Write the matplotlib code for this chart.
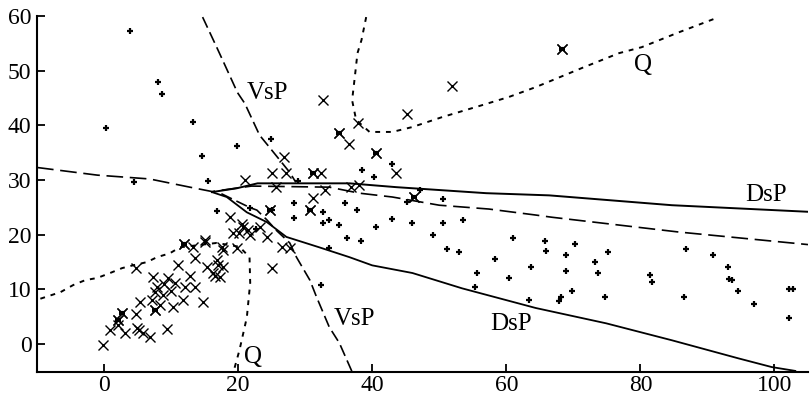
import matplotlib
matplotlib.use('Agg')
import matplotlib.pyplot as plt
import numpy as np

plt.rcParams['font.family'] = ['Liberation Serif', 'DejaVu Serif']

# class boundaries
vsp_x = [14.7, 16.8, 17.7, 19.9, 21.0, 23.2, 24.4, 27.7, 28.6, np.nan,
         17.5, 21.7, 22.8, 24.3, 25.7, 27.7, 28.7, 30.7, 31.7, 33.6, 35.1, 36.9, 37.0]
vsp_y = [59.8, 54.3, 51.9, 46.0, 44.0, 38.2, 36.4, 31.4, 29.6, np.nan,
         27.5, 25.0, 24.5, 22.7, 20.8, 18.5, 15.9, 11.7, 8.6, 3.1, 0.2, -4.8, -5.0]

dsp_up_x = [16.1, 19.8, 22.9, 32.1, 36.6, 43.6, 57.0, 66.4, 84.7, 105.0]
dsp_up_y = [27.8, 28.5, 29.4, 29.4, 29.4, 28.7, 27.6, 27.2, 25.4, 24.2]

dsp_lo_x = [16.1, 18.3, 21.3, 24.3, 27.2, 32.1, 36.6, 40.0, 46.0, 53.4, 64.4, 74.9, 84.7, 94.6, 99.6, 103.1]
dsp_lo_y = [27.8, 26.9, 24.1, 22.3, 19.6, 17.7, 15.9, 14.4, 13.0, 10.2, 6.6, 3.8, 0.7, -2.6, -4.2, -4.9]

dash_x = [-10.0, -1.0, 6.8, 12.8, 16.1, 22.0, 33.6, 38.1, 43.0, 50.0, 57.4, 64.4, 66.8, 85.7, 105.0]
dash_y = [32.3, 30.9, 30.2, 28.7, 27.9, 28.9, 28.7, 27.6, 26.9, 25.4, 24.7, 23.6, 23.2, 20.5, 18.2]

q1_x = [-9.5, -6.5, -4.6, -2.8, -1.0, 0.9, 2.7, 4.3, 6.4, 7.9, 9.8, 11.3, 16.8, 20.2,
        21.7, 21.8, 21.3, 20.2, 19.5, 19.3]
q1_y = [8.3, 9.5, 10.8, 11.7, 12.1, 13.0, 13.9, 14.4, 15.0, 15.9, 16.6, 17.7, 18.5, 17.8,
        15.9, 11.2, 4.9, -1.1, -4.2, -5.0]

q2_x = [39.1, 38.4, 37.8, 37.4, 37.0, 37.6, 39.6, 43.0, 46.0, 50.4, 56.4, 60.4, 64.4,
        71.3, 76.8, 80.2, 85.7, 91.7]
q2_y = [59.8, 55.6, 53.2, 48.8, 44.6, 41.0, 38.8, 38.8, 39.7, 41.5, 43.7, 45.2, 47.0,
        50.5, 53.2, 54.3, 57.0, 59.8]

# observations
cross_x = [-0.1, 0.9, 2.1, 2.7, 4.8, 2.1, 3.1, 4.9, 5.2, 5.8, 6.8, 9.4, 5.4, 7.6, 7.1, 8.3,
           8.8, 10.3, 11.8, 7.6, 7.3, 9.5, 7.9, 11.0, 12.1, 10.6, 13.5, 14.7, 13.5, 4.8,
           11.9, 15.0, 15.3, 16.2, 17.7, 17.3, 16.8, 17.7, 19.2, 15.0, 17.6, 19.8, 18.8,
           20.7, 20.2, 23.2, 24.3, 26.5, 27.7, 13.2, 21.0, 25.7, 25.1, 27.2, 26.8, 31.1,
           32.4, 31.1, 30.7, 24.7, 32.9, 36.9, 38.1, 32.6, 51.9, 45.2, 37.9, 35.0, 36.5,
           40.5, 43.6, 46.3, 68.3, 25.1, 21.5, 20.6, 21.8, 16.5, 17.0, 9.0, 10.0, 12.8]
cross_y = [-0.2, 2.6, 3.5, 5.7, 5.5, 4.4, 2.0, 2.9, 2.5, 2.0, 1.3, 2.7, 7.7, 6.2, 8.0, 7.1,
           9.0, 6.8, 8.0, 9.5, 12.2, 12.1, 10.4, 14.4, 10.4, 11.2, 10.4, 7.7, 15.7, 13.9,
           18.3, 18.6, 14.1, 13.0, 14.1, 12.2, 15.4, 17.2, 20.3, 19.0, 17.7, 17.5, 23.2,
           21.4, 20.3, 21.4, 19.6, 17.7, 17.5, 17.7, 30.0, 28.7, 31.3, 31.3, 34.2, 31.3,
           31.3, 26.7, 24.5, 24.5, 28.2, 28.7, 29.1, 44.6, 47.2, 42.0, 40.4, 38.6, 36.6,
           35.0, 31.3, 26.9, 53.9, 13.9, 20.8, 22.0, 20.0, 12.5, 14.5, 11.0, 9.8, 12.5]

plus_x = [3.9, 8.0, 8.6, 0.3, 13.2, 14.6, 19.8, 15.5, 4.5, 24.9, 16.8, 28.4, 28.4, 42.9,
          47.2, 45.2, 50.6, 36.0, 37.8, 33.6, 35.0, 42.9, 40.5, 46.0, 50.6, 53.6, 36.2,
          38.4, 49.0, 33.6, 51.2, 53.0, 61.0, 65.8, 65.9, 58.3, 63.7, 55.7, 60.4, 55.4,
          63.4, 32.3, 25.1, 32.6, 32.6, 70.2, 68.9, 75.1, 68.9, 73.2, 73.7, 69.8, 68.2,
          67.9, 74.7, 81.4, 81.7, 86.5, 86.8, 90.8, 93.0, 93.2, 93.6, 94.5, 96.9, 102.2,
          102.8, 102.2, 21.8, 22.6, 40.3, 38.5, 29.0]
plus_y = [57.2, 47.9, 45.7, 39.5, 40.6, 34.4, 36.2, 29.8, 29.6, 37.5, 24.3, 25.8, 23.0, 32.9,
          28.2, 26.0, 26.5, 25.8, 24.5, 22.7, 21.8, 22.9, 21.4, 22.1, 22.1, 22.7, 19.4,
          18.8, 19.9, 17.5, 17.4, 16.8, 19.4, 18.8, 17.0, 15.5, 14.1, 13.0, 12.1, 10.4,
          8.0, 10.8, 24.5, 24.1, 22.1, 18.3, 16.3, 16.8, 13.3, 15.0, 13.0, 9.7, 8.6,
          7.9, 8.6, 12.6, 11.3, 8.6, 17.4, 16.3, 14.1, 11.9, 11.7, 9.7, 7.3, 10.1,
          10.1, 4.8, 24.8, 21.0, 30.5, 31.8, 29.9]

mixed_x = [2.7, 2.1, 7.6, 11.9, 35.0, 40.5, 46.3, 68.3, 30.7, 24.7, 31.1]
mixed_y = [5.7, 4.4, 6.2, 18.3, 38.6, 35.0, 26.9, 53.9, 24.5, 24.5, 31.3]

fig = plt.figure(figsize=(8.1, 3.99), dpi=100)
ax = fig.add_axes([37 / 810, 27 / 399, 771 / 810, 356 / 399])

ax.plot(vsp_x, vsp_y, color='black', lw=1.2, linestyle=(0, (7, 3)))
ax.plot(dash_x, dash_y, color='black', lw=1.2, linestyle=(0, (10, 4)))
ax.plot(dsp_up_x, dsp_up_y, color='black', lw=1.4)
ax.plot(dsp_lo_x, dsp_lo_y, color='black', lw=1.3)
ax.plot(q1_x, q1_y, color='black', lw=1.4, linestyle=(0, (2.5, 3)))
ax.plot(q2_x, q2_y, color='black', lw=1.4, linestyle=(0, (2.5, 3)))

ax.plot(cross_x, cross_y, 'x', color='black', ms=6.5, mew=1.0)
ax.plot(plus_x, plus_y, '+', color='black', ms=4, mew=1.6)
ax.plot(mixed_x, mixed_y, 'x', color='black', ms=6.5, mew=1.0)
ax.plot(mixed_x, mixed_y, '_', color='black', ms=5, mew=3)

txt = dict(fontsize=18, ha='center', va='center')
ax.text(24.4, 46, 'VsP', **txt)
ax.text(37.3, 4.6, 'VsP', **txt)
ax.text(98.8, 27.2, 'DsP', **txt)
ax.text(60.7, 3.7, 'DsP', **txt)
ax.text(22.2, -2.4, 'Q', **txt)
ax.text(80.4, 51.0, 'Q', **txt)

ax.set_xlim(-10, 105)
ax.set_ylim(-5.1, 60)
ax.set_xticks([0, 20, 40, 60, 80, 100])
ax.set_yticks([0, 10, 20, 30, 40, 50, 60])
ax.spines['top'].set_visible(False)
ax.spines['right'].set_visible(False)
ax.spines['left'].set_linewidth(1.5)
ax.spines['bottom'].set_linewidth(1.5)
ax.tick_params(direction='in', length=6, width=1.3, labelsize=17)
ax.tick_params(axis='x', pad=2)
ax.tick_params(axis='y', pad=4)

plt.savefig('out.png', dpi=100)
